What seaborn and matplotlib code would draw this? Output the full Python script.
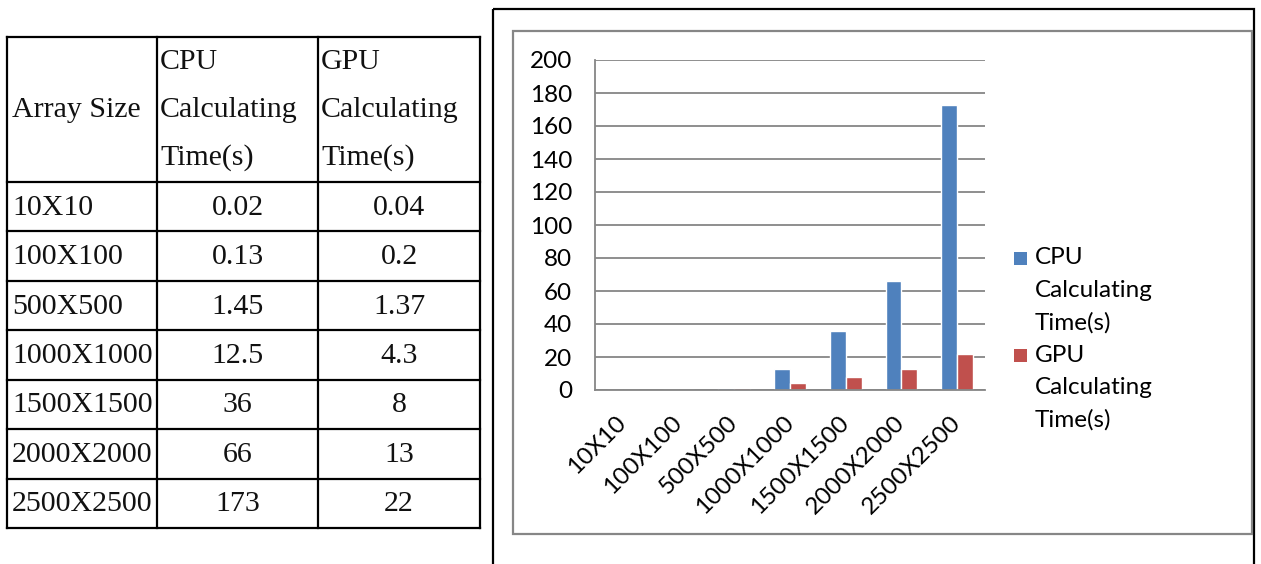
import matplotlib
matplotlib.use("Agg")
import matplotlib.pyplot as plt
from matplotlib.patches import Rectangle
import seaborn as sns
import pandas as pd
import numpy as np

# ---- data ----
array_sizes = ["10X10", "100X100", "500X500", "1000X1000", "1500X1500", "2000X2000", "2500X2500"]
cpu_times = [0.02, 0.13, 1.45, 12.5, 36, 66, 173]
gpu_times = [0.04, 0.2, 1.37, 4.3, 8, 13, 22]
series_names = ["CPU Calculating Time(s)", "GPU Calculating Time(s)"]
size_header = "Array Size"
y_ticks = [0, 20, 40, 60, 80, 100, 120, 140, 160, 180, 200]

bar_colors = ["#4F81BD", "#C0504D"]
grid_gray = "#868686"

df = pd.DataFrame({
    "size": array_sizes * 2,
    "series": [series_names[0]] * len(array_sizes) + [series_names[1]] * len(array_sizes),
    "time": cpu_times + gpu_times,
})

sns.set_theme(style="white")
chart_font = "Lato"
table_font = "Liberation Serif"

W, H = 1261, 564
fig = plt.figure(figsize=(W / 100, H / 100), dpi=100)
fig.patch.set_facecolor("white")

# full-figure layer in pixel units for the table, frames and legend
layer = fig.add_axes([0, 0, 1, 1], zorder=0)
layer.set_xlim(0, W)
layer.set_ylim(H, 0)
layer.axis("off")

# chart frames
layer.add_patch(Rectangle((493, 9), 1254 - 493, 600, fill=False, ec="black", lw=1.6))
layer.add_patch(Rectangle((513, 31), 1252 - 513, 534 - 31, fill=False, ec=grid_gray, lw=1.6))

# ---- table ----
col_x = [7, 157, 318, 480]
header_top, header_bottom, table_bottom = 37, 182, 528
n_rows = len(array_sizes)
row_y = np.linspace(header_bottom, table_bottom, n_rows + 1)
tbl_lw = 1.6
for x in col_x:
    layer.plot([x, x], [header_top, table_bottom], color="black", lw=tbl_lw, solid_capstyle="projecting")
for y in [header_top] + list(row_y):
    layer.plot([col_x[0], col_x[-1]], [y, y], color="black", lw=tbl_lw, solid_capstyle="projecting")

txt_color = "#111111"
hdr_size = 21.5
header_lines_y = [62, 110, 158]
layer.text(col_x[0] + 5, header_lines_y[1], size_header, family=table_font, fontsize=hdr_size,
           ha="left", va="center", color=txt_color)
for j, name in enumerate(series_names):
    for k, word in enumerate(name.split(" ")):
        layer.text(col_x[j + 1] + 3, header_lines_y[k], word, family=table_font,
                   fontsize=hdr_size, ha="left", va="center", color=txt_color)

cell_size = 21.5
for i, (s, c, g) in enumerate(zip(array_sizes, cpu_times, gpu_times)):
    yc = (row_y[i] + row_y[i + 1]) / 2 + 1
    layer.text(col_x[0] + 5, yc, s, family=table_font, fontsize=cell_size,
               ha="left", va="center", color=txt_color)
    layer.text((col_x[1] + col_x[2]) / 2, yc, f"{c:g}", family=table_font, fontsize=cell_size,
               ha="center", va="center", color=txt_color)
    layer.text((col_x[2] + col_x[3]) / 2, yc, f"{g:g}", family=table_font, fontsize=cell_size,
               ha="center", va="center", color=txt_color)

# ---- bar chart ----
left, right, top, bottom = 595, 985, 60, 390
ax = fig.add_axes([left / W, 1 - bottom / H, (right - left) / W, (bottom - top) / H], zorder=1)
ax.patch.set_alpha(0)

sns.barplot(data=df, x="size", y="time", hue="series", order=array_sizes,
            hue_order=series_names, palette=bar_colors, width=0.57,
            saturation=1, ax=ax, legend=False, zorder=3)

ax.set_xlim(-0.5, len(array_sizes) - 0.5)
ax.set_ylim(0, 200)
ax.set_yticks(y_ticks)
ax.set_xlabel("")
ax.set_ylabel("")

ax.yaxis.grid(True, color=grid_gray, lw=1.3)
ax.set_axisbelow(True)
for side in ["top", "right"]:
    ax.spines[side].set_visible(False)
for side in ["left", "bottom"]:
    ax.spines[side].set_color(grid_gray)
    ax.spines[side].set_linewidth(1.3)
    ax.spines[side].set_zorder(4)

ax.tick_params(axis="y", which="major", direction="out", length=5.5, width=1.3,
               color=grid_gray, pad=11, labelsize=17.5, labelcolor="black")
ax.set_xticks(np.arange(-0.5, len(array_sizes)), minor=True)
ax.tick_params(axis="x", which="minor", direction="out", length=6, width=1.3, color=grid_gray)
ax.tick_params(axis="x", which="major", length=0, pad=21, labelsize=17.5, labelcolor="black")
for lab in ax.get_xticklabels():
    lab.set_rotation(45)
    lab.set_ha("right")
    lab.set_va("center")
    lab.set_rotation_mode("anchor")
for lab in ax.get_xticklabels() + ax.get_yticklabels():
    lab.set_family(chart_font)

# legend to the right of the plot: colour key beside the first line of each wrapped name
leg_size = 17.5
leg_first_y = [258, 355]
leg_line_step = 32.3
for color, name, y0 in zip(bar_colors, series_names, leg_first_y):
    layer.add_patch(Rectangle((1014, y0 - 6.5), 13, 13, color=color, lw=0))
    for k, word in enumerate(name.split(" ")):
        layer.text(1035, y0 + k * leg_line_step, word, family=chart_font, fontsize=leg_size,
                   ha="left", va="center", color="black")

fig.savefig("out.png", dpi=100, facecolor="white")
